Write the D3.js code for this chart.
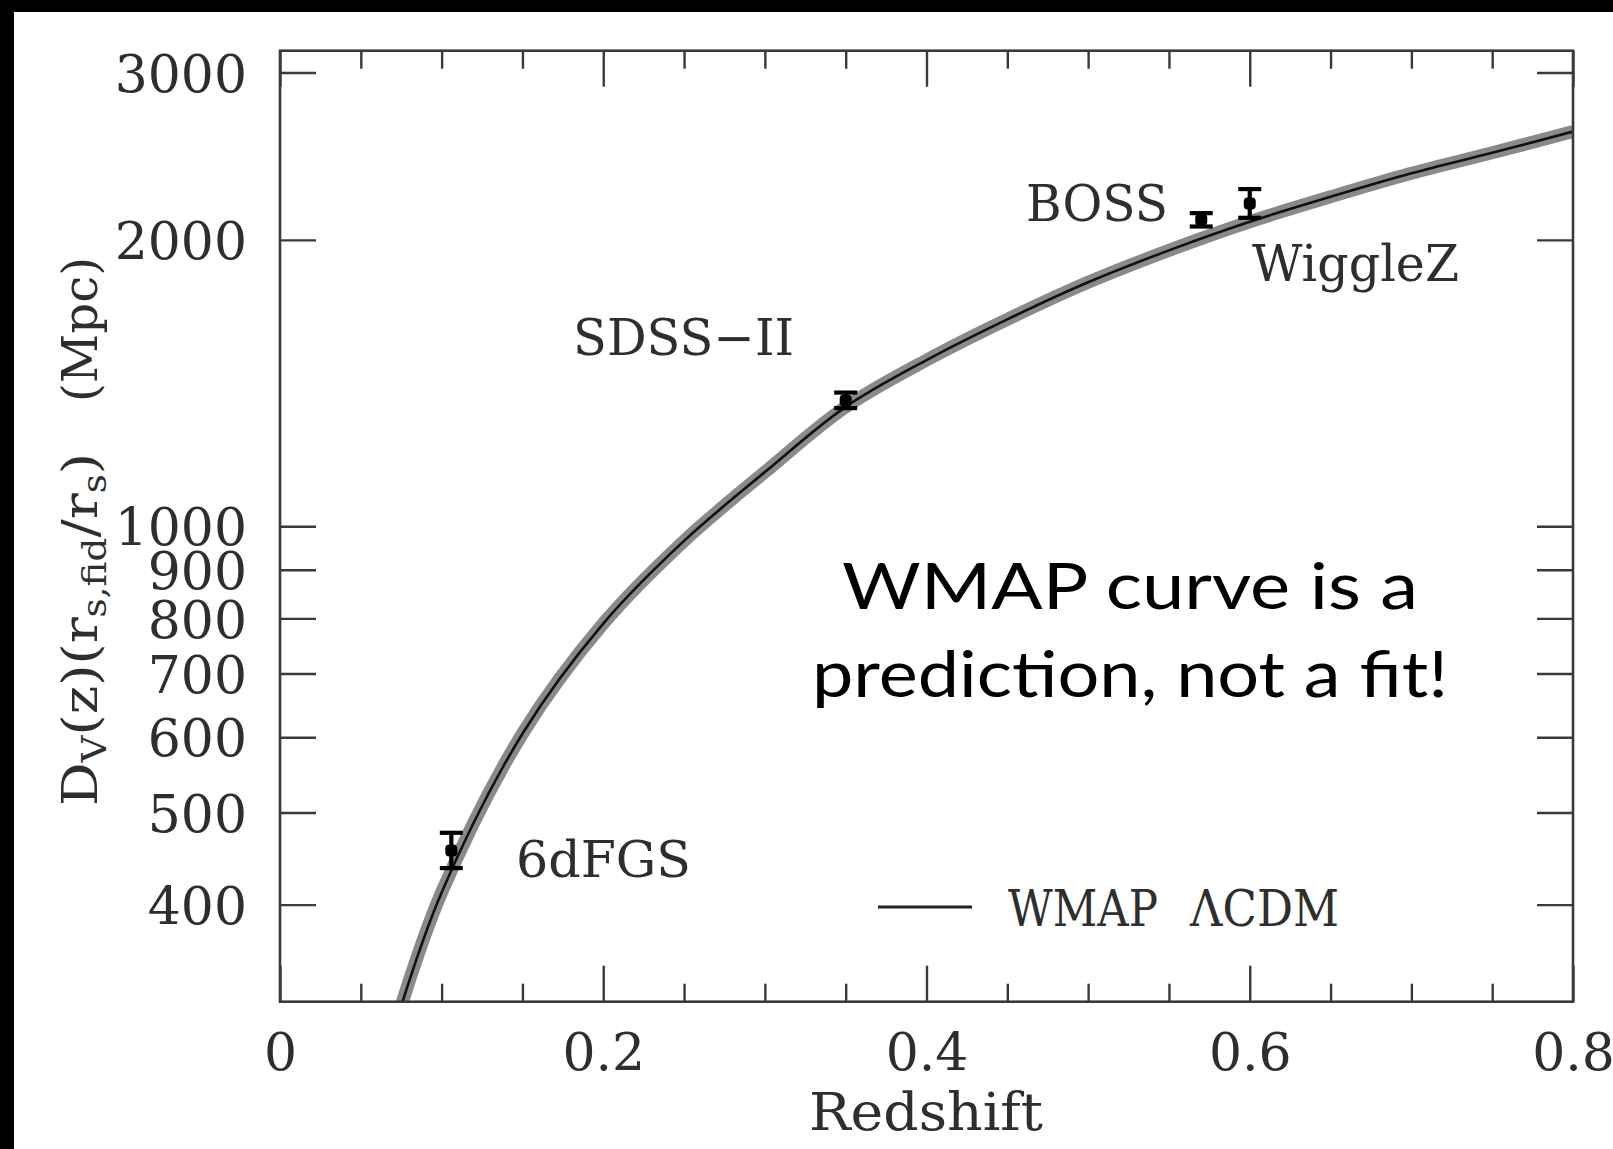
<!DOCTYPE html>
<html>
<head>
<meta charset="utf-8">
<script src="https://cdn.jsdelivr.net/npm/d3@7"></script>
<style>
  html, body { margin: 0; padding: 0; background: #000; }
  svg { display: block; }
</style>
</head>
<body>
<script>
// ---- data -------------------------------------------------------------
// WMAP LCDM prediction for D_V(z) (Mpc), sampled along the curve
const curveZ  = [0.075, 0.10, 0.15, 0.20, 0.25, 0.30, 0.35, 0.40, 0.45, 0.50, 0.55, 0.60, 0.65, 0.70, 0.75, 0.80];
const curveDV = [313,   412,  605,  790,  965,  1140, 1335, 1495, 1650, 1805, 1950, 2090, 2220, 2350, 2470, 2600];

// BAO measurements
const surveys   = ["6dFGS", "SDSS\u2212II", "BOSS", "WiggleZ"];
const surveyZ   = [0.106, 0.35, 0.57, 0.60];
const surveyDV  = [456, 1356, 2100, 2185];
const surveyLo  = [437, 1331, 2066, 2110];
const surveyHi  = [476, 1382, 2134, 2262];

// axis ticks
const xMajorTicks = [0, 0.2, 0.4, 0.6, 0.8];
const xMinorTicks = [0.05, 0.1, 0.15, 0.25, 0.3, 0.35, 0.45, 0.5, 0.55, 0.65, 0.7, 0.75];
const xTickLabels = ["0", "0.2", "0.4", "0.6", "0.8"];
const yTicks      = [400, 500, 600, 700, 800, 900, 1000, 2000, 3000];
const yTickLabels = ["400", "500", "600", "700", "800", "900", "1000", "2000", "3000"];

// ---- layout -----------------------------------------------------------
const W = 1613, H = 1149;
const plot = { left: 280, right: 1573, top: 50.7, bottom: 1001.7 };
const serif = "'DejaVu Serif', 'Liberation Serif', serif";
const ink = "#2e2e2e";

const svg = d3.select("body").append("svg")
  .attr("width", W).attr("height", H);

svg.append("rect").attr("width", W).attr("height", H).attr("fill", "#000");
svg.append("rect").attr("x", 14).attr("y", 12)
  .attr("width", W - 14).attr("height", H - 12).attr("fill", "#fff");

const x = d3.scaleLinear().domain([0, 0.8]).range([plot.left, plot.right]);
const y = d3.scaleLog().domain([Math.pow(10, 2.5), Math.pow(10, 3.5)])
  .range([plot.bottom, plot.top]);

svg.append("clipPath").attr("id", "plotClip")
  .append("rect")
  .attr("x", plot.left).attr("y", plot.top)
  .attr("width", plot.right - plot.left).attr("height", plot.bottom - plot.top);

// ---- model curve with its uncertainty band ----------------------------
const curvePts = curveZ.map((z, i) => ({ z, v: curveDV[i] }));
const line = d3.line()
  .x(d => x(d.z)).y(d => y(d.v))
  .curve(d3.curveCatmullRom.alpha(0.5));

const curveG = svg.append("g").attr("clip-path", "url(#plotClip)");
curveG.append("path").datum(curvePts)
  .attr("d", line).attr("fill", "none")
  .attr("stroke", "#8a8a8a").attr("stroke-width", 13);
curveG.append("path").datum(curvePts)
  .attr("d", line).attr("fill", "none")
  .attr("stroke", "#111").attr("stroke-width", 2.6);

// ---- data points with error bars --------------------------------------
const pts = surveys.map((s, i) => ({
  name: s, z: surveyZ[i], v: surveyDV[i], lo: surveyLo[i], hi: surveyHi[i]
}));
const capHalf = 11.5;
const eb = svg.append("g").attr("stroke", "#000").attr("stroke-width", 4.2);
pts.forEach(p => {
  const cx = x(p.z);
  eb.append("line").attr("x1", cx).attr("x2", cx)
    .attr("y1", y(p.lo)).attr("y2", y(p.hi));
  eb.append("line").attr("x1", cx - capHalf).attr("x2", cx + capHalf)
    .attr("y1", y(p.lo)).attr("y2", y(p.lo));
  eb.append("line").attr("x1", cx - capHalf).attr("x2", cx + capHalf)
    .attr("y1", y(p.hi)).attr("y2", y(p.hi));
});
svg.append("g").selectAll("rect").data(pts).join("rect")
  .attr("x", d => x(d.z) - 6).attr("y", d => y(d.v) - 6)
  .attr("width", 12).attr("height", 12).attr("rx", 4)
  .attr("fill", "#000");

// ---- axes ---------------------------------------------------------------
function styleAxis(g) {
  g.select(".domain").remove();
  g.selectAll(".tick line").attr("stroke", "#3a3a3a").attr("stroke-width", 2.4);
  g.selectAll(".tick text").attr("fill", ink)
    .attr("font-family", serif).attr("font-size", 52);
}

// bottom
const gB = svg.append("g").attr("transform", `translate(0,${plot.bottom})`)
  .call(d3.axisBottom(x).tickValues(xMajorTicks).tickSize(-36)
    .tickFormat((d, i) => xTickLabels[i]));
styleAxis(gB);
gB.selectAll(".tick text").attr("y", 68.5).attr("dy", 0);
const gBm = svg.append("g").attr("transform", `translate(0,${plot.bottom})`)
  .call(d3.axisBottom(x).tickValues(xMinorTicks).tickSize(-18).tickFormat(""));
styleAxis(gBm);

// top
const gT = svg.append("g").attr("transform", `translate(0,${plot.top})`)
  .call(d3.axisTop(x).tickValues(xMajorTicks).tickSize(-36).tickFormat(""));
styleAxis(gT);
const gTm = svg.append("g").attr("transform", `translate(0,${plot.top})`)
  .call(d3.axisTop(x).tickValues(xMinorTicks).tickSize(-18).tickFormat(""));
styleAxis(gTm);

// left
const gL = svg.append("g").attr("transform", `translate(${plot.left},0)`)
  .call(d3.axisLeft(y).tickValues(yTicks).tickSize(-36).tickPadding(33)
    .tickFormat((d, i) => yTickLabels[i]));
styleAxis(gL);
gL.selectAll(".tick text").attr("dy", "0.36em");

// right
const gR = svg.append("g").attr("transform", `translate(${plot.right},0)`)
  .call(d3.axisRight(y).tickValues(yTicks).tickSize(-36).tickFormat(""));
styleAxis(gR);

// frame
svg.append("rect")
  .attr("x", plot.left).attr("y", plot.top)
  .attr("width", plot.right - plot.left).attr("height", plot.bottom - plot.top)
  .attr("fill", "none").attr("stroke", "#3a3a3a").attr("stroke-width", 2.6);

// ---- axis titles ------------------------------------------------------
svg.append("text")
  .attr("x", 926).attr("y", 1130)
  .attr("text-anchor", "middle")
  .attr("font-family", serif).attr("font-size", 52).attr("fill", ink)
  .attr("textLength", 234).attr("lengthAdjust", "spacingAndGlyphs")
  .text("Redshift");

// rotated y title: quantity, then unit
const yTitle = svg.append("text")
  .attr("transform", "translate(97,806) rotate(-90)")
  .attr("font-family", serif).attr("font-size", 48).attr("fill", ink)
  .attr("textLength", 353).attr("lengthAdjust", "spacingAndGlyphs");
const yParts = [
  ["D", false], ["V", true], ["(z)(r", false], ["s,fid", true],
  ["/r", false], ["s", true], [")", false]
];
yParts.forEach(([t, sub]) => {
  yTitle.append("tspan")
    .attr("font-size", sub ? 33 : 48)
    .attr("baseline-shift", sub ? "-28%" : "0%")
    .text(t);
});
svg.append("text")
  .attr("transform", "translate(97,402) rotate(-90)")
  .attr("font-family", serif).attr("font-size", 48).attr("fill", ink)
  .attr("textLength", 145).attr("lengthAdjust", "spacingAndGlyphs")
  .text("(Mpc)");

// ---- survey labels ----------------------------------------------------
const labelPos = {
  "6dFGS":        { x: 516,  y: 877, w: 175 },
  "SDSS\u2212II": { x: 573,  y: 355, w: 221 },
  "BOSS":         { x: 1026, y: 221, w: 142 },
  "WiggleZ":      { x: 1252, y: 281, w: 207 }
};
surveys.forEach(s => {
  const p = labelPos[s];
  svg.append("text")
    .attr("x", p.x).attr("y", p.y)
    .attr("font-family", serif).attr("font-size", 50).attr("fill", ink)
    .attr("textLength", p.w).attr("lengthAdjust", "spacingAndGlyphs")
    .text(s);
});

// ---- legend -----------------------------------------------------------
svg.append("line")
  .attr("x1", 878).attr("x2", 972).attr("y1", 907).attr("y2", 907)
  .attr("stroke", "#222").attr("stroke-width", 2.8);
[["WMAP", 1008, 150], ["\u039BCDM", 1190, 149]].forEach(([t, x0, w]) => {
  svg.append("text")
    .attr("x", x0).attr("y", 926)
    .attr("font-family", serif).attr("font-size", 50).attr("fill", ink)
    .attr("textLength", w).attr("lengthAdjust", "spacingAndGlyphs")
    .text(t);
});

// ---- annotation -------------------------------------------------------
const note = [
  { t: "WMAP curve is a", y: 609, w: 576 },
  { t: "prediction, not a fit!", y: 697, w: 636 }
];
note.forEach(n => {
  svg.append("text")
    .attr("x", 1130).attr("y", n.y)
    .attr("text-anchor", "middle")
    .attr("font-family", "Lato, 'Open Sans', sans-serif")
    .attr("font-size", 63).attr("fill", "#000")
    .attr("textLength", n.w).attr("lengthAdjust", "spacingAndGlyphs")
    .text(n.t);
});
</script>
</body>
</html>
